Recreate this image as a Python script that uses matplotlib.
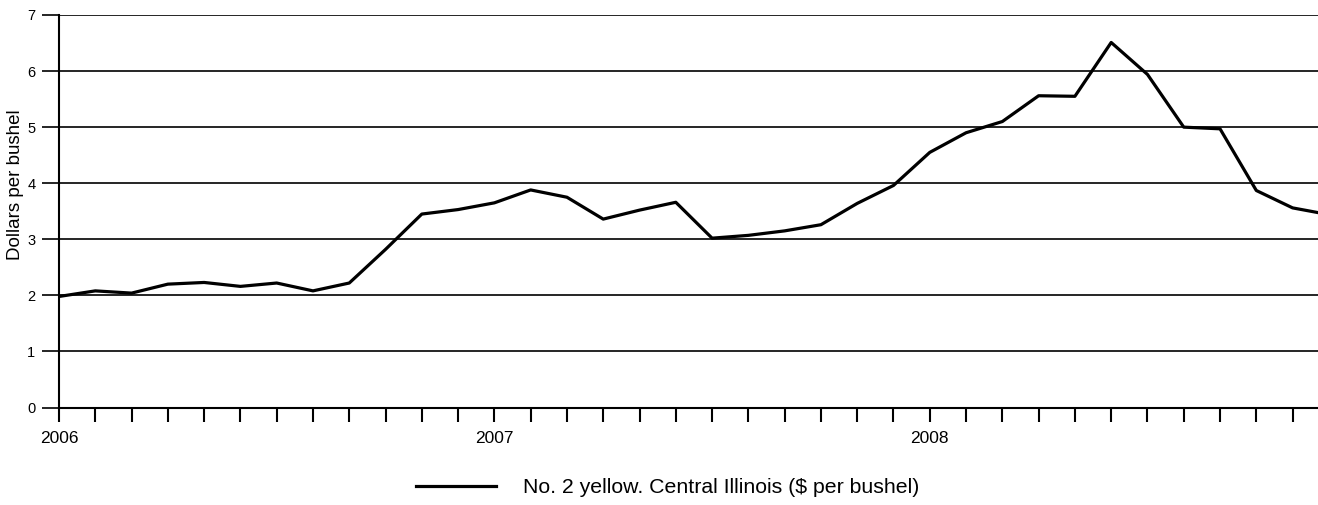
import matplotlib
matplotlib.use('Agg')
import matplotlib.pyplot as plt

# monthly price, Jan 2006 onwards
months = list(range(36))
price = [1.98, 2.08, 2.04, 2.20, 2.23, 2.16, 2.22, 2.08, 2.22, 2.82, 3.45, 3.53,
         3.65, 3.88, 3.75, 3.36, 3.52, 3.66, 3.02, 3.07, 3.15, 3.26, 3.64, 3.96,
         4.55, 4.90, 5.10, 5.56, 5.55, 6.51, 5.94, 5.00, 4.97, 3.87, 3.56, 3.44]
year_labels = {0: '2006', 12: '2007', 24: '2008'}
series_name = 'No. 2 yellow. Central Illinois ($ per bushel)'

plt.rcParams['font.family'] = ['Liberation Sans', 'DejaVu Sans']

fig = plt.figure(figsize=(13.18, 5.05), dpi=100)
ax = fig.add_axes([59 / 1318, 1 - 407.5 / 505, 1 - 59 / 1318, (407.5 - 15) / 505])

ax.plot(months, price, color='black', lw=2.3, label=series_name, zorder=3)

ax.set_xlim(0, 34.7)
ax.set_ylim(0, 7)
ax.set_yticks(range(8))
ax.yaxis.grid(True, color='black', lw=1.2)
ax.set_axisbelow(True)

ticks = months[:35]
ax.set_xticks(ticks)
ax.set_xticklabels([year_labels.get(m, '') for m in ticks])
ax.tick_params(axis='x', direction='out', length=10, width=1.5, pad=7, labelsize=12.5)
ax.tick_params(axis='y', direction='out', length=12, width=1.2, pad=5, labelsize=10.5)

for s in ['top', 'right']:
    ax.spines[s].set_visible(False)
ax.spines['left'].set_linewidth(1.5)
ax.spines['bottom'].set_linewidth(1.5)

ax.set_ylabel('Dollars per bushel', fontsize=13.5)
ax.yaxis.set_label_coords(-0.0275, 0.567)

fig.legend(loc='center', bbox_to_anchor=(0.5065, 0.034), frameon=False, fontsize=15.3,
           handlelength=3.8, handletextpad=1.25)

fig.savefig('out.png', dpi=100)
